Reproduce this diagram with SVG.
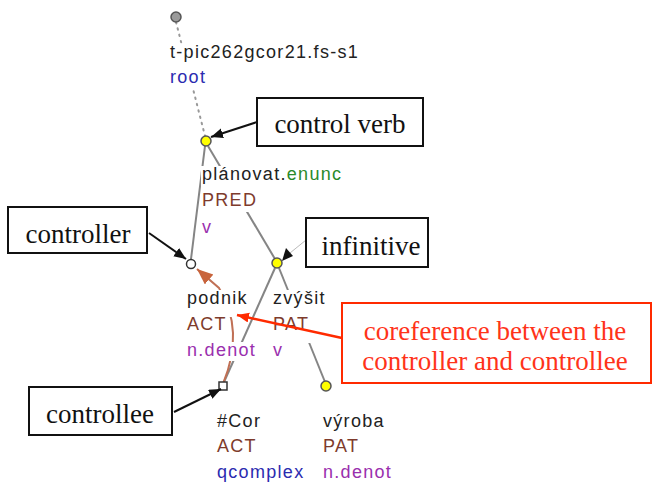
<svg xmlns="http://www.w3.org/2000/svg" width="654" height="484" viewBox="0 0 654 484">
<defs>
<style>
.lbl{font-family:"Liberation Sans",Arial,sans-serif;font-size:18px;letter-spacing:1.3px;fill:#222}
.bg{fill:#fff}
.fn{fill:#7e3b2c}
.pu{fill:#9a2fae}
.bl{fill:#2b2bb0}
.gr{fill:#2a8a2a}
.edge{stroke:#858585;stroke-width:2;fill:none}
.box{fill:#fff;stroke:#111;stroke-width:2}
.rbox{fill:#fff;stroke:#ff2a00;stroke-width:2}
.ct{font-family:"Liberation Serif","Times New Roman",serif;font-size:27px;fill:#111;text-anchor:middle}
.rt{font-family:"Liberation Serif","Times New Roman",serif;font-size:27px;fill:#ff3319;text-anchor:middle}
.arr{stroke:#111;stroke-width:2;fill:none;marker-end:url(#ah)}
</style>
<marker id="ah" markerUnits="userSpaceOnUse" markerWidth="13" markerHeight="11" refX="12" refY="5" orient="auto"><path d="M0,0 L12,5 L0,10 z" fill="#111"/></marker>
<marker id="ahr" markerUnits="userSpaceOnUse" markerWidth="13" markerHeight="11" refX="12" refY="5" orient="auto"><path d="M0,0 L12,5 L0,10 z" fill="#ff2a00"/></marker>
<marker id="ahb" markerUnits="userSpaceOnUse" markerWidth="17" markerHeight="14" refX="16" refY="6.5" orient="auto"><path d="M0,0 L16,6.5 L0,13 z" fill="#c8643c"/></marker>
</defs>

<g id="connectors">
<line x1="176" y1="22" x2="205" y2="136" stroke="#999" stroke-width="2" stroke-dasharray="1.5 5" stroke-linecap="round"/>
<line class="edge" x1="205" y1="146" x2="191" y2="259"/>
<line class="edge" x1="208" y1="146" x2="275" y2="259"/>
<line class="edge" x1="275" y1="268" x2="224" y2="382"/>
<line class="edge" x1="279" y1="268" x2="325" y2="382"/>
<path d="M223,384 Q245,330 219,288 L197,269" stroke="#c07055" stroke-width="2" fill="none" marker-end="url(#ahb)"/>
</g>

<g id="node-root">
<rect class="bg" x="169" y="44" width="194" height="26"/>
<rect class="bg" x="169" y="69" width="40" height="19"/>
<circle cx="176" cy="17" r="5" fill="#9a9a9a" stroke="#555" stroke-width="1.5"/>
<text class="lbl" x="170" y="58">t-pic262gcor21.fs-s1</text>
<text class="lbl bl" x="170" y="83">root</text>
</g>

<g id="node-planovat">
<rect class="bg" x="201" y="166" width="145" height="27"/>
<rect class="bg" x="201" y="192" width="59" height="20"/>
<rect class="bg" x="201" y="211" width="13" height="27"/>
<circle cx="206" cy="141" r="5" fill="#ffff00" stroke="#555" stroke-width="1.5"/>
<text class="lbl" x="202" y="180">plánovat.<tspan class="gr">enunc</tspan></text>
<text class="lbl fn" x="202" y="206">PRED</text>
<text class="lbl pu" x="202" y="233">v</text>
</g>

<g id="node-podnik">
<rect class="bg" x="186" y="290" width="63" height="27"/>
<rect class="bg" x="186" y="316" width="43" height="27"/>
<rect class="bg" x="186" y="342" width="72" height="19"/>
<circle cx="191" cy="264" r="4.5" fill="#fff" stroke="#333" stroke-width="1.5"/>
<text class="lbl" x="187" y="304">podnik</text>
<text class="lbl fn" x="187" y="330">ACT</text>
<text class="lbl pu" x="187" y="356">n.denot</text>
</g>

<g id="node-zvysit">
<rect class="bg" x="272" y="290" width="56" height="27"/>
<rect class="bg" x="272" y="316" width="42" height="27"/>
<rect class="bg" x="272" y="342" width="13" height="19"/>
<circle cx="277" cy="263" r="5" fill="#ffff00" stroke="#555" stroke-width="1.5"/>
<text class="lbl" x="273" y="304">zvýšit</text>
<text class="lbl fn" x="273" y="330">PAT</text>
<text class="lbl pu" x="273" y="356">v</text>
</g>

<g id="node-cor">
<rect x="219" y="382" width="8" height="8" fill="#fff" stroke="#333" stroke-width="1.5"/>
<text class="lbl" x="217" y="427">#Cor</text>
<text class="lbl fn" x="217" y="452">ACT</text>
<text class="lbl bl" x="217" y="478">qcomplex</text>
</g>

<g id="node-vyroba">
<circle cx="326" cy="386" r="5" fill="#ffff00" stroke="#555" stroke-width="1.5"/>
<text class="lbl" x="323" y="427">výroba</text>
<text class="lbl fn" x="323" y="452">PAT</text>
<text class="lbl pu" x="323" y="478">n.denot</text>
</g>

<g id="callout-control-verb">
<line class="arr" x1="257" y1="122" x2="211" y2="137"/>
<rect class="box" x="257" y="98" width="166" height="48"/>
<text class="ct" x="340" y="133">control verb</text>
</g>

<g id="callout-controller">
<line class="arr" x1="149" y1="233" x2="186" y2="259"/>
<rect class="box" x="8" y="207" width="139" height="46"/>
<text class="ct" x="78" y="243">controller</text>
</g>

<g id="callout-infinitive">
<line x1="306" y1="240" x2="290" y2="253" stroke="#bbb" stroke-width="1"/>
<path d="M282,261 L286,248 L293,256 z" fill="#111"/>
<rect class="box" x="306" y="218" width="122" height="49"/>
<text class="ct" x="371" y="255">infinitive</text>
</g>

<g id="callout-controllee">
<line class="arr" x1="174" y1="412" x2="221" y2="389"/>
<rect class="box" x="29" y="387" width="143" height="48"/>
<text class="ct" x="100" y="423">controllee</text>
</g>

<g id="callout-coreference">
<line x1="342" y1="338" x2="237" y2="315" stroke="#ff2a00" stroke-width="2.5" marker-end="url(#ahr)"/>
<rect class="rbox" x="342" y="303" width="309" height="80"/>
<text class="rt" x="495" y="340">coreference between the</text>
<text class="rt" x="495" y="370">controller and controllee</text>
</g>
</svg>
